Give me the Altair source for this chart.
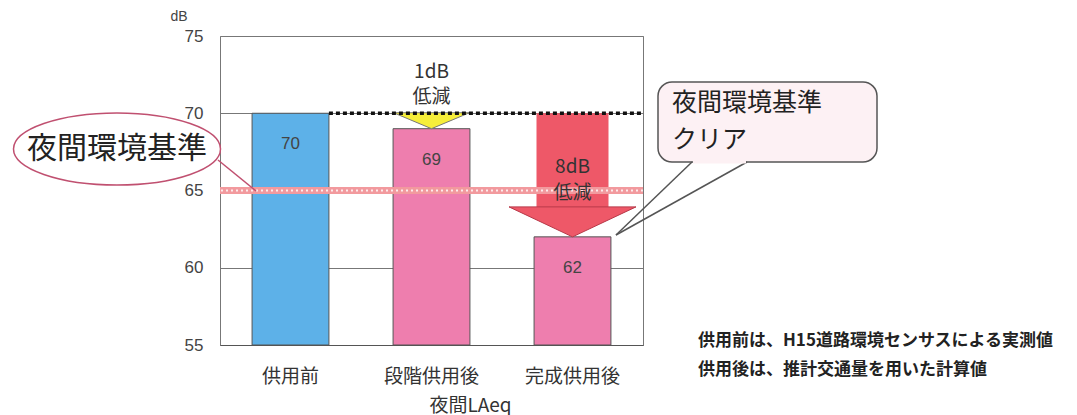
import altair as alt
import pandas as pd

# ---- data ----
categories = ["供用前", "段階供用後", "完成供用後"]
values = [70, 69, 62]
bar_colors = ["#5DB1E8", "#EE7EAE", "#EE7EAE"]
y_ticks = [55, 60, 65, 70, 75]
standard = 65          # 夜間環境基準 (dB)
reductions = ["1dB", "8dB"]
notes = ["供用前は、H15道路環境センサスによる実測値", "供用後は、推計交通量を用いた計算値"]

W, H = 423, 309
JP = "Noto Sans CJK JP"

bars_df = pd.DataFrame({"cat": categories, "val": values, "color": bar_colors,
                        "label": [str(v) for v in values]})

xscale = alt.Scale(domain=categories, paddingInner=0.455, paddingOuter=0.2275)
yscale = alt.Scale(domain=[55, 75], nice=False, zero=False)

x_enc = alt.X("cat:N", sort=categories, scale=xscale, title="夜間LAeq",
              axis=alt.Axis(labelAngle=0, ticks=False, labelPadding=22, labelFont=JP,
                            labelFontSize=19, labelColor="#333", domainColor="#555",
                            titleFont=JP, titleFontSize=19, titleFontWeight="normal",
                            titleColor="#333", titleX=250, titleY=60, titleBaseline="middle"))
y_enc = alt.Y("val:Q", scale=yscale, title=None,
              axis=alt.Axis(values=y_ticks, grid=True, gridColor="#777", ticks=False,
                            domain=False, labelPadding=17, labelFont="Liberation Sans",
                            labelFontSize=17, labelColor="#444"))

bars = alt.Chart(bars_df).mark_bar(stroke="#555", strokeWidth=1).encode(
    x=x_enc, y=y_enc, y2=alt.datum(55), color=alt.Color("color:N", scale=None))

labels = alt.Chart(bars_df).mark_text(dy=31, fontSize=17, color="#444", font="Liberation Sans").encode(
    x=alt.X("cat:N", sort=categories), y="val:Q", text="label:N")

# red 8dB arrow (shaft from 70 down to head, head apex at 62)
shaft_df = pd.DataFrame({"cat": [categories[2]], "top": [values[0]], "bot": [63.94]})
shaft = alt.Chart(shaft_df).mark_bar(color="#EE5868", width=72).encode(
    x=alt.X("cat:N", sort=categories), y="top:Q", y2="bot:Q")

head_df = pd.DataFrame({"cat": [categories[2], categories[1]], "y": [values[2], values[1]]})
red_head = alt.Chart(head_df.iloc[[0]]).mark_point(
    shape="M-1,-0.472 L1,-0.472 L0,0 Z", filled=True, size=127 ** 2, fill="#EE5868",
    stroke="#B83848", strokeWidth=1, opacity=1).encode(
    x=alt.X("cat:N", sort=categories), y="y:Q")
yellow_head = alt.Chart(head_df.iloc[[1]]).mark_point(
    shape="M-1,-0.42 L1,-0.42 L0,0 Z", filled=True, size=76 ** 2, fill="#F6EE3A",
    stroke="#777", strokeWidth=1, opacity=1).encode(
    x=alt.X("cat:N", sort=categories), y="y:Q")

# night-time standard line (hatched look)
std_df = pd.DataFrame({"y": [standard]})
std1 = alt.Chart(std_df).mark_rule(color="#F29A9E", strokeWidth=7).encode(y="y:Q")
std2 = alt.Chart(std_df).mark_rule(color="white", strokeWidth=2, strokeDash=[2, 3], opacity=0.8).encode(y="y:Q")

# dotted reference line at the "before" level
dot_df = pd.DataFrame({"cat": [categories[0]], "y": [values[0]]})
dotted = alt.Chart(dot_df).mark_rule(color="#111", strokeWidth=3.5, strokeDash=[4, 3]).encode(
    x=alt.X("cat:N", sort=categories, bandPosition=1), x2=alt.value(W), y="y:Q")

# reduction texts
red_txt_df = pd.DataFrame({
    "cat": [categories[1], categories[1], categories[2], categories[2]],
    "y": [72.67, 71.05, 66.52, 64.84],
    "t": [reductions[0], "低減", reductions[1], "低減"]})
red_txt = alt.Chart(red_txt_df).mark_text(fontSize=19, font=JP, color="#333").encode(
    x=alt.X("cat:N", sort=categories), y="y:Q", text="t:N")

one = pd.DataFrame({"a": [0]})
ell_path = ("M-1,0 C-1,-0.192 -0.552,-0.348 0,-0.348 C0.552,-0.348 1,-0.192 1,0 "
            "C1,0.192 0.552,0.348 0,0.348 C-0.552,0.348 -1,0.192 -1,0 Z")
ellipse = alt.Chart(one).mark_point(shape=ell_path, filled=False, color="#C05070",
                                    strokeWidth=1.5, size=207 ** 2, opacity=1).encode(
    x=alt.value(-103), y=alt.value(113))
ell_text = alt.Chart(pd.DataFrame({"t": ["夜間環境基準"]})).mark_text(
    fontSize=30, font=JP, color="#222").encode(x=alt.value(-103), y=alt.value(113), text="t:N")
leader = alt.Chart(one).mark_rule(color="#C05070", strokeWidth=1.5).encode(
    x=alt.value(-2), y=alt.value(124), x2=alt.value(36), y2=alt.value(155))

callout = alt.Chart(one).mark_rect(cornerRadius=14, fill="#FDF1F4", stroke="#555", strokeWidth=1.5).encode(
    x=alt.value(438), x2=alt.value(657), y=alt.value(46), y2=alt.value(126))
tail_df = pd.DataFrame({"x": [472, 527], "y": [126, 126], "x2": [396, 396], "y2": [199, 199]})
tail = alt.Chart(tail_df).mark_rule(color="#555", strokeWidth=1.5).encode(
    x=alt.X("x:Q", scale=None), y=alt.Y("y:Q", scale=None),
    x2="x2:Q", y2="y2:Q")
tail_cover = alt.Chart(one).mark_rule(color="#FDF1F4", strokeWidth=3).encode(
    x=alt.value(473), x2=alt.value(526), y=alt.value(126))
call_txt = alt.Chart(pd.DataFrame({"t": ["夜間環境基準", "クリア"], "y": [67, 104]})).mark_text(
    fontSize=25, font=JP, color="#222", align="left").encode(
    x=alt.value(452), y=alt.Y("y:Q", scale=None), text="t:N")

notes_txt = alt.Chart(pd.DataFrame({"t": notes, "y": [305, 334]})).mark_text(
    fontSize=17, font=JP, fontWeight="bold", color="#222", align="left").encode(
    x=alt.value(478), y=alt.Y("y:Q", scale=None), text="t:N")

unit_txt = alt.Chart(pd.DataFrame({"t": ["dB"]})).mark_text(
    fontSize=14, font="Liberation Sans", color="#444").encode(
    x=alt.value(-41), y=alt.value(-19), text="t:N")

chart = alt.layer(
    bars, shaft, red_head, yellow_head, std1, std2, dotted, labels, red_txt,
    ellipse, ell_text, leader, callout, tail, tail_cover, call_txt, notes_txt, unit_txt
).properties(
    width=W, height=H,
    autosize=alt.AutoSizeParams(type="none"),
    padding={"left": 220, "top": 36, "right": 434, "bottom": 70},
    background="white",
).configure_view(stroke="#777", strokeWidth=1)

chart.save("out.html", embed_options={"renderer": "svg", "actions": False})
